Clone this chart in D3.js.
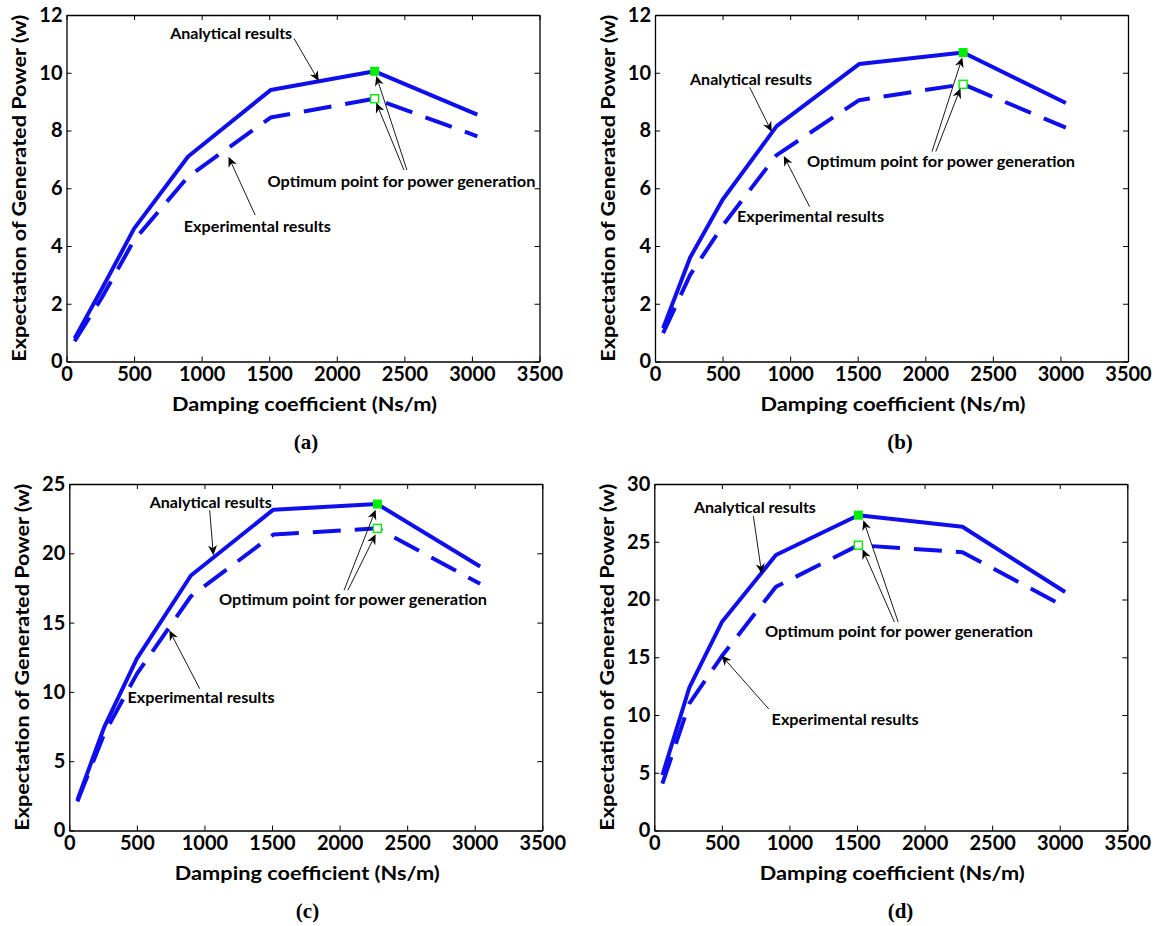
<!DOCTYPE html>
<html>
<head>
<meta charset="utf-8">
<script src="https://cdn.jsdelivr.net/npm/d3@7"></script>
<style>
  body { margin: 0; background: #fff; }
  svg text { font-family: "Lato", "Open Sans", sans-serif; font-weight: bold; fill: #000; }
</style>
</head>
<body>
<svg id="fig" width="1156" height="926"></svg>
<script>
// Damping coefficients (Ns/m) shared by all four cases
const damping = [60, 260, 500, 900, 1510, 2280, 3040];

// Expectation of generated power (W), analytical vs experimental
const analyticalA   = [0.8, 2.5, 4.6, 7.1, 9.4, 10.05, 8.55];
const experimentalA = [0.7, 2.2, 4.2, 6.4, 8.45, 9.1, 7.8];
const analyticalB   = [1.15, 3.6, 5.6, 8.15, 10.3, 10.7, 8.95];
const experimentalB = [0.98, 3.0, 4.7, 7.15, 9.05, 9.6, 8.1];
const analyticalC   = [2.2, 7.5, 12.4, 18.4, 23.15, 23.55, 19.05];
const experimentalC = [2.1, 7.0, 11.3, 16.9, 21.35, 21.8, 17.8];
const analyticalD   = [4.8, 12.4, 18.05, 23.85, 27.3, 26.3, 20.65];
const experimentalD = [4.05, 11.0, 15.1, 21.1, 24.7, 24.1, 19.35];

// Index of the optimum damping in each case
const optimumIndex = [5, 5, 5, 4];

// Tick values
const xTicks   = [0, 500, 1000, 1500, 2000, 2500, 3000, 3500];
const yTicksAB = [0, 2, 4, 6, 8, 10, 12];
const yTicksC  = [0, 5, 10, 15, 20, 25];
const yTicksD  = [0, 5, 10, 15, 20, 25, 30];

// Text labels
const xTitle = "Damping coefficient (Ns/m)";
const yTitle = "Expectation of Generated Power (w)";
const noteAnalytical = "Analytical results";
const noteExperimental = "Experimental results";
const noteOptimum = "Optimum point for power generation";
const panelLetters = ["(a)", "(b)", "(c)", "(d)"];

// Annotation anchors in data units: label start, arrow tail, arrow tip
const notesA = [
  { text: noteAnalytical,   at: [767, 11.37], arrows: [[[1683, 11.19], [1867, 9.71]]] },
  { text: noteOptimum,      at: [1487, 6.25], arrows: [[[2519, 6.63], [2292, 9.89]], [[2497, 6.63], [2292, 8.96]]] },
  { text: noteExperimental, at: [868, 4.69],  arrows: [[[1396, 5.07], [1199, 7.09]]] }
];
const notesB = [
  { text: noteAnalytical,   at: [259, 9.75],  arrows: [[[700, 9.50], [863, 7.96]]] },
  { text: noteOptimum,      at: [1125, 6.92], arrows: [[[2050, 7.27], [2274, 10.53]], [[2078, 7.27], [2260, 9.46]]] },
  { text: noteExperimental, at: [607, 5.01],  arrows: [[[1144, 5.36], [953, 7.12]]] }
];
const notesC = [
  { text: noteAnalytical,   at: [595, 23.63], arrows: [[[1039, 23.1], [1066, 19.86]]] },
  { text: noteOptimum,      at: [1108, 16.66], arrows: [[[2033, 17.33], [2267, 23.15]], [[2061, 17.33], [2267, 21.37]]] },
  { text: noteExperimental, at: [431, 9.63],  arrows: [[[965, 10.23], [740, 14.44]]] }
];
const notesD = [
  { text: noteAnalytical,   at: [293, 27.94], arrows: [[[733, 27.22], [795, 22.24]]] },
  { text: noteOptimum,      at: [819, 17.26], arrows: [[[1805, 18.04], [1547, 26.87]], [[1777, 18.04], [1541, 24.36]]] },
  { text: noteExperimental, at: [868, 9.59],  arrows: [[[847, 10.52], [497, 15.15]]] }
];

const noteWidths = { [noteAnalytical]: 122, [noteOptimum]: 268, [noteExperimental]: 147 };

// Panel frames
const W = 473, H = 346.5;
const panels = [
  { left: 66.5,  top: 15,  ymax: 12, yTicks: yTicksAB, an: analyticalA, ex: experimentalA, notes: notesA, letterX: 306 },
  { left: 655,   top: 15,  ymax: 12, yTicks: yTicksAB, an: analyticalB, ex: experimentalB, notes: notesB, letterX: 900 },
  { left: 69.3,  top: 484, ymax: 25, yTicks: yTicksC,  an: analyticalC, ex: experimentalC, notes: notesC, letterX: 307.5 },
  { left: 654.3, top: 484, ymax: 30, yTicks: yTicksD,  an: analyticalD, ex: experimentalD, notes: notesD, letterX: 900.5 }
];

const BLUE = "#0f0fee";
const GREEN = "#00ee00";
const svg = d3.select("#fig");
const plain = d3.format("d");

function styleAxis(sel) {
  sel.select(".domain").attr("stroke", "#000").attr("stroke-width", 1.3);
  sel.selectAll(".tick line").attr("stroke", "#000").attr("stroke-width", 1);
  sel.selectAll(".tick text").attr("font-size", 20).attr("font-family", "Lato").attr("font-weight", "bold").attr("fill", "#000");
}

function arrowHead(g, x0, y0, x1, y1) {
  const ang = Math.atan2(y1 - y0, x1 - x0);
  const L = 10, hw = 4.5, notch = 7;
  const pts = [[0, 0], [-L, -hw], [-notch, 0], [-L, hw]].map(([u, v]) => [
    x1 + u * Math.cos(ang) - v * Math.sin(ang),
    y1 + u * Math.sin(ang) + v * Math.cos(ang)
  ]);
  g.append("path").attr("d", "M" + pts.map(p => p.join(",")).join("L") + "Z").attr("fill", "#000");
  return [x1 - notch * Math.cos(ang), y1 - notch * Math.sin(ang)];
}

panels.forEach((p, i) => {
  const g = svg.append("g").attr("transform", `translate(${p.left},${p.top})`);
  const x = d3.scaleLinear().domain([0, 3500]).range([0, W]);
  const y = d3.scaleLinear().domain([0, p.ymax]).range([H, 0]);

  // Axes box with inward ticks on all sides
  g.append("g").attr("transform", `translate(0,${H})`)
    .call(d3.axisBottom(x).tickValues(xTicks).tickFormat(plain).tickSize(-5).tickSizeOuter(0).tickPadding(5))
    .call(styleAxis);
  g.append("g")
    .call(d3.axisLeft(y).tickValues(p.yTicks).tickFormat(plain).tickSize(-5).tickSizeOuter(0).tickPadding(4))
    .call(styleAxis);
  g.append("g")
    .call(d3.axisTop(x).tickValues(xTicks).tickSize(-5).tickSizeOuter(0).tickFormat(""))
    .call(styleAxis);
  g.append("g").attr("transform", `translate(${W},0)`)
    .call(d3.axisRight(y).tickValues(p.yTicks).tickSize(-5).tickSizeOuter(0).tickFormat(""))
    .call(styleAxis);

  // Axis titles
  g.append("text").attr("x", 238).attr("y", H + 49).attr("text-anchor", "middle")
    .attr("font-size", 19.5).attr("textLength", 265).attr("lengthAdjust", "spacingAndGlyphs").text(xTitle);
  g.append("text").attr("transform", `translate(-48,${H / 2}) rotate(-90)`)
    .attr("text-anchor", "middle").attr("dominant-baseline", "central")
    .attr("font-size", 19.5).attr("textLength", 347).attr("lengthAdjust", "spacingAndGlyphs").text(yTitle);

  // Curves
  const line = d3.line().x((d, k) => x(damping[k])).y(d => y(d));
  g.append("path").datum(p.ex).attr("d", line).attr("fill", "none")
    .attr("stroke", BLUE).attr("stroke-width", 4).attr("stroke-dasharray", "28,14")
    .attr("stroke-linejoin", "round");
  g.append("path").datum(p.an).attr("d", line).attr("fill", "none")
    .attr("stroke", BLUE).attr("stroke-width", 4).attr("stroke-linejoin", "round");

  // Optimum markers
  const k = optimumIndex[i];
  g.append("rect").attr("x", x(damping[k]) - 4).attr("y", y(p.ex[k]) - 4)
    .attr("width", 8).attr("height", 8).attr("fill", "#fff").attr("stroke", GREEN).attr("stroke-width", 1.4);
  g.append("rect").attr("x", x(damping[k]) - 4.5).attr("y", y(p.an[k]) - 4.5)
    .attr("width", 9).attr("height", 9).attr("fill", GREEN);

  // Annotations
  p.notes.forEach(n => {
    g.append("text").attr("x", x(n.at[0])).attr("y", y(n.at[1]))
      .attr("dominant-baseline", "central").attr("font-size", 14.5)
      .attr("textLength", noteWidths[n.text]).attr("lengthAdjust", "spacingAndGlyphs")
      .text(n.text);
    n.arrows.forEach(([tail, tip]) => {
      const x0 = x(tail[0]), y0 = y(tail[1]), x1 = x(tip[0]), y1 = y(tip[1]);
      const [bx, by] = arrowHead(g, x0, y0, x1, y1);
      g.append("line").attr("x1", x0).attr("y1", y0).attr("x2", bx).attr("y2", by)
        .attr("stroke", "#000").attr("stroke-width", 0.9);
    });
  });

  // Panel letter
  svg.append("text").attr("x", p.letterX).attr("y", p.top + H + 87).attr("text-anchor", "middle")
    .style("font-family", "'Liberation Serif', 'Times New Roman', serif")
    .attr("font-size", 21).text(panelLetters[i]);
});
</script>
</body>
</html>
